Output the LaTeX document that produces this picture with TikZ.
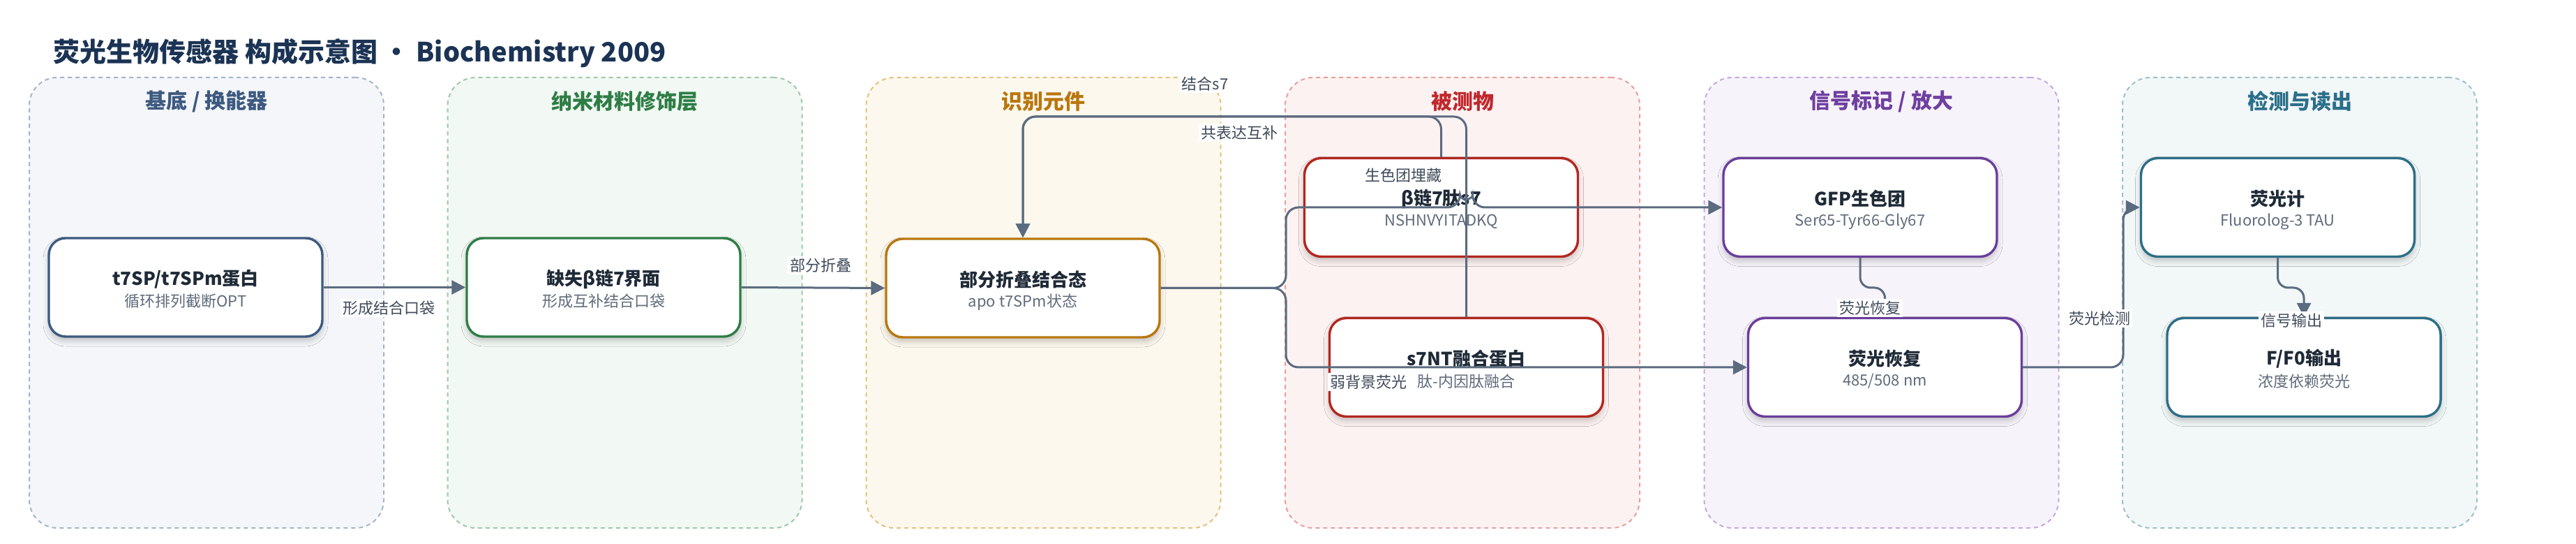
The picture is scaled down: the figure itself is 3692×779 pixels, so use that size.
\documentclass[tikz,border=0pt]{standalone}
\usepackage{fontspec}
\setmainfont{Noto Sans CJK SC}
\usetikzlibrary{arrows.meta,shadows.blur}
\definecolor{pagetitle}{HTML}{1B3354}
\definecolor{titlec}{HTML}{1F2A37}
\definecolor{subc}{HTML}{5F6B7A}
\definecolor{labc}{HTML}{3F4A5A}
\definecolor{edgec}{HTML}{5B6B80}
% lane colours
\definecolor{lAfill}{HTML}{F4F6FA}\definecolor{lAbd}{HTML}{A7B4C8}\definecolor{lAtx}{HTML}{3D5A80}
\definecolor{lBfill}{HTML}{F2F8F3}\definecolor{lBbd}{HTML}{9DCAA8}\definecolor{lBtx}{HTML}{2E7D46}
\definecolor{lCfill}{HTML}{FDF8EE}\definecolor{lCbd}{HTML}{E6C07E}\definecolor{lCtx}{HTML}{B9770E}
\definecolor{lDfill}{HTML}{FDF2F2}\definecolor{lDbd}{HTML}{E8A0A0}\definecolor{lDtx}{HTML}{C0282D}
\definecolor{lEfill}{HTML}{F7F3FB}\definecolor{lEbd}{HTML}{C4A9E0}\definecolor{lEtx}{HTML}{6F3FA0}
\definecolor{lFfill}{HTML}{F2F7F8}\definecolor{lFbd}{HTML}{9DBFCC}\definecolor{lFtx}{HTML}{2B6F8A}
% box borders
\definecolor{bA}{HTML}{3D5A80}
\definecolor{bB}{HTML}{2E7D46}
\definecolor{bC}{HTML}{B9770E}
\definecolor{bD}{HTML}{B3261E}
\definecolor{bE}{HTML}{6A3D9A}
\definecolor{bF}{HTML}{2C6E87}
\begin{document}
\begin{tikzpicture}[x=0.5pt,y=-0.5pt,
  lane/.style={draw=#1, dash pattern=on 3pt off 2.5pt, line width=1pt, rounded corners=20pt,
    minimum width=254pt, minimum height=322.5pt, inner sep=0pt},
  lanetitle/.style={font=\bfseries\fontsize{15}{18}\selectfont, text=#1, inner sep=0pt},
  nbox/.style={draw=#1, line width=1.7pt, fill=white, rounded corners=12pt,
    minimum width=196pt, minimum height=70.5pt, inner sep=0pt,
    blur shadow={shadow xshift=0pt,shadow yshift=-3pt,shadow blur radius=4pt,shadow opacity=22}},
  ttl/.style={font=\bfseries\fontsize{13}{16}\selectfont, text=titlec, inner sep=0pt},
  subt/.style={font=\fontsize{11}{13}\selectfont, text=subc, inner sep=0pt},
  elabel/.style={font=\fontsize{11}{13}\selectfont, text=labc, fill=white, inner sep=1.5pt},
  conn/.style={draw=edgec, line width=1.5pt, -{Triangle[length=10pt,width=10pt]}},
]
\useasboundingbox (0,0) rectangle (3692,779);
\fill[white] (0,0) rectangle (3692,779);

% title
\node[anchor=base west, inner sep=0pt, text=pagetitle, font=\bfseries\fontsize{19}{23}\selectfont] (T) at (76,89)
  {荧光生物传感器 构成示意图 · Biochemistry 2009};

% lanes
\node[lane=lAbd, fill=lAfill] (L1) at (296,433.5) {};
\node[lane=lBbd, fill=lBfill] (L2) at (895.5,433.5) {};
\node[lane=lCbd, fill=lCfill] (L3) at (1495.5,433.5) {};
\node[lane=lDbd, fill=lDfill] (L4) at (2096,433.5) {};
\node[lane=lEbd, fill=lEfill] (L5) at (2696.5,433.5) {};
\node[lane=lFbd, fill=lFfill] (L6) at (3296,433.5) {};

\node[lanetitle=lAtx] (L1t) at (296,145) {基底 / 换能器};
\node[lanetitle=lBtx] (L2t) at (895.5,145) {纳米材料修饰层};
\node[lanetitle=lCtx] (L3t) at (1495.5,145) {识别元件};
\node[lanetitle=lDtx] (L4t) at (2096,145) {被测物};
\node[lanetitle=lEtx] (L5t) at (2696.5,145) {信号标记 / 放大};
\node[lanetitle=lFtx] (L6t) at (3296,145) {检测与读出};

% boxes
\node[nbox=bA] (B1) at (266,411.5) {};
\node[nbox=bB] (B2) at (865,411.5) {};
\node[nbox=bC] (B3) at (1466,412.5) {};
\node[nbox=bD] (B4) at (2065.5,297) {};
\node[nbox=bD] (B5) at (2101.5,526) {};
\node[nbox=bE] (B6) at (2666,297) {};
\node[nbox=bE] (B7) at (2701.5,526) {};
\node[nbox=bF] (B8) at (3264.5,297) {};
\node[nbox=bF] (B9) at (3302,526) {};

\node[ttl] (B1t) at ([yshift=6pt]B1.center) {t7SP/t7SPm蛋白};
\node[subt] (B1s) at ([yshift=-10pt]B1.center) {循环排列截断OPT};
\node[ttl] (B2t) at ([yshift=6pt]B2.center) {缺失β链7界面};
\node[subt] (B2s) at ([yshift=-10pt]B2.center) {形成互补结合口袋};
\node[ttl] (B3t) at ([yshift=6pt]B3.center) {部分折叠结合态};
\node[subt] (B3s) at ([yshift=-10pt]B3.center) {apo t7SPm状态};
\node[ttl] (B4t) at ([yshift=6pt]B4.center) {β链7肽s7};
\node[subt] (B4s) at ([yshift=-10pt]B4.center) {NSHNVYITADKQ};
\node[ttl] (B5t) at ([yshift=6pt]B5.center) {s7NT融合蛋白};
\node[subt] (B5s) at ([yshift=-10pt]B5.center) {肽-内因肽融合};
\node[ttl] (B6t) at ([yshift=6pt]B6.center) {GFP生色团};
\node[subt] (B6s) at ([yshift=-10pt]B6.center) {Ser65-Tyr66-Gly67};
\node[ttl] (B7t) at ([yshift=6pt]B7.center) {荧光恢复};
\node[subt] (B7s) at ([yshift=-10pt]B7.center) {485/508 nm};
\node[ttl] (B8t) at ([yshift=6pt]B8.center) {荧光计};
\node[subt] (B8s) at ([yshift=-10pt]B8.center) {Fluorolog-3 TAU};
\node[ttl] (B9t) at ([yshift=6pt]B9.center) {F/F0输出};
\node[subt] (B9s) at ([yshift=-10pt]B9.center) {浓度依赖荧光};

% connectors
\draw[conn] (B1.east) -- (B2.west);
\draw[conn] (B2.east) -- (B3.west);
\draw[conn, rounded corners=9pt] (B3.east) -- (1843,412.5) -- (1843,297) -- (2092.5,297)
  to[out=90,in=90,looseness=1.4] (2110.5,297) -- (B6.west);
\draw[conn, rounded corners=9pt] (B3.east) -- (1843,412.5) -- (1843,526) -- (B7.west);
\draw[conn, rounded corners=9pt] (B4.north) -- (2065.5,167) -- (1466,167) -- (B3.north);
\draw[conn, rounded corners=9pt] (B5.north) -- (2101.5,167) -- (1466,167) -- (B3.north);
\draw[conn, rounded corners=7.5pt] (B6.south) -- (2666,412) -- (2701.5,412) -- (B7.north);
\draw[conn, rounded corners=9pt] (B7.east) -- (3043,526) -- (3043,297) -- (B8.west);
\draw[conn, rounded corners=7.5pt] (B8.south) -- (3264.5,412) -- (3302,412) -- (B9.north);

% connector labels
\node[elabel] (E1) at (557,441) {形成结合口袋};
\node[elabel] (E2) at (1176,380) {部分折叠};
\node[elabel] (E3) at (2011,251) {生色团埋藏};
\node[elabel] (E4) at (1961,547) {弱背景荧光};
\node[elabel] (E5) at (1727,120) {结合s7};
\node[elabel] (E6) at (1776,190) {共表达互补};
\node[elabel] (E7) at (2680,441) {荧光恢复};
\node[elabel] (E8) at (3009,456) {荧光检测};
\node[elabel] (E9) at (3284,459) {信号输出};
\end{tikzpicture}
\end{document}
